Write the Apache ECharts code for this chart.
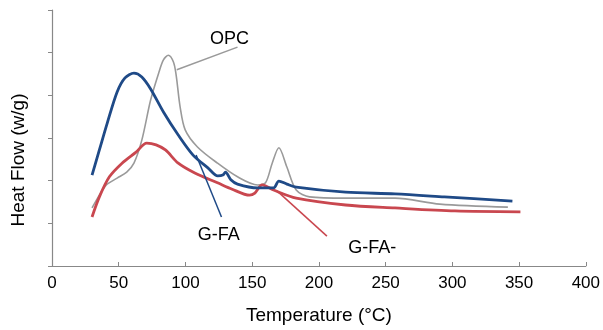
<!DOCTYPE html>
<html>
<head>
<meta charset="utf-8">
<script src="https://cdn.jsdelivr.net/npm/echarts@6/dist/echarts.min.js"></script>
<style>
html,body{margin:0;padding:0;background:#fff;}
#chart{width:603px;height:330px;}
</style>
</head>
<body>
<div id="chart"></div>
<script>
// Temperature (°C) / Heat flow (w/g) pairs
var gfaT = [30, 35.5, 41.4, 48.8, 54.7, 61.4, 67.3, 73.9, 83.5, 94.6, 105.7, 116.8, 124.2, 128, 130, 134, 139, 154, 166, 170, 176, 183, 220, 257, 294, 345];
var gfaH = [2.13, 2.72, 3.35, 4.08, 4.41, 4.52, 4.43, 4.15, 3.61, 3.07, 2.60, 2.30, 2.11, 2.13, 2.20, 2.02, 1.92, 1.83, 1.83, 1.99, 1.92, 1.85, 1.73, 1.69, 1.62, 1.52];

var gfa2T = [30, 35.5, 43, 52.5, 63, 71, 78, 85, 94.6, 107, 124, 135, 148, 152, 157.5, 166, 183, 220, 257, 302, 351];
var gfa2H = [1.15, 1.62, 2.09, 2.41, 2.67, 2.88, 2.84, 2.72, 2.41, 2.18, 1.95, 1.80, 1.66, 1.71, 1.90, 1.78, 1.59, 1.43, 1.36, 1.29, 1.27];

var opcT = [30, 35.5, 40.7, 48.8, 56, 61.4, 67.3, 73.9, 79.9, 83.5, 87.2, 91, 93, 96, 99.8, 109, 124, 139, 154, 160, 165, 170, 176, 183, 193, 220, 257, 290.6, 341.6];
var opcH = [1.36, 1.66, 1.90, 2.06, 2.20, 2.41, 2.95, 3.89, 4.52, 4.83, 4.94, 4.78, 4.48, 3.73, 3.19, 2.79, 2.41, 2.09, 1.90, 1.95, 2.41, 2.77, 2.32, 1.78, 1.62, 1.59, 1.59, 1.45, 1.38];

// leader lines and labels (data units)
var labelNames = ['OPC', 'G-FA', 'G-FA-'];
var labelT = [133, 125, 240];
var labelH = [5.32, 0.73, 0.42];
var leaderOPC = [[93.5, 4.6], [139, 5.13]];
var leaderGFA = [[108, 2.60], [127, 1.15]];
var leaderGFA2 = [[168.6, 1.76], [206, 0.70]];

var xTicks = [0, 400, 50];
var yRange = [0, 6, 1];

function pairs(a, b) { return a.map(function (v, i) { return [v, b[i]]; }); }

var BLUE = '#1f4a87', RED = '#c9474f', GRAY = '#9a9a9a';
var FONT = 'Liberation Sans, Arial, Helvetica, sans-serif';

var chart = echarts.init(document.getElementById('chart'), null, {renderer: 'canvas'});
chart.setOption({
  animation: false,
  backgroundColor: '#fff',
  grid: {left: 52, right: 10, top: 10, bottom: 64},
  xAxis: {
    type: 'value', min: xTicks[0], max: xTicks[1], interval: xTicks[2],
    name: 'Temperature (°C)', nameLocation: 'middle', nameGap: 40,
    nameTextStyle: {fontFamily: FONT, fontSize: 19, color: '#000'},
    axisLine: {lineStyle: {color: '#888', width: 1.2}},
    axisTick: {show: true, inside: true, length: 4, lineStyle: {color: '#888'}},
    axisLabel: {fontFamily: FONT, fontSize: 17, color: '#000', margin: 9},
    splitLine: {show: false}
  },
  yAxis: {
    type: 'value', min: yRange[0], max: yRange[1], interval: yRange[2],
    name: 'Heat Flow (w/g)', nameLocation: 'middle', nameGap: 24,
    nameTextStyle: {fontFamily: FONT, fontSize: 19, color: '#000', padding: [0, 44, 0, 0]},
    axisLine: {show: true, lineStyle: {color: '#888', width: 1.2}},
    axisTick: {show: true, inside: false, length: 4, lineStyle: {color: '#888'}},
    axisLabel: {show: false},
    splitLine: {show: false}
  },
  series: [
    {type: 'line', name: 'OPC', data: pairs(opcT, opcH), smooth: 0.3, showSymbol: false, symbol: 'none',
     lineStyle: {color: GRAY, width: 1.6}, z: 2},
    {type: 'line', name: 'G-FA-', data: pairs(gfa2T, gfa2H), smooth: 0.3, showSymbol: false, symbol: 'none',
     lineStyle: {color: RED, width: 2.8}, z: 3},
    {type: 'line', name: 'G-FA', data: pairs(gfaT, gfaH), smooth: 0.3, showSymbol: false, symbol: 'none',
     lineStyle: {color: BLUE, width: 2.8}, z: 4},
    {type: 'line', data: leaderOPC, symbol: 'none', lineStyle: {color: GRAY, width: 1.5}, z: 2},
    {type: 'line', data: leaderGFA, symbol: 'none', lineStyle: {color: BLUE, width: 1.5}, z: 4},
    {type: 'line', data: leaderGFA2, symbol: 'none', lineStyle: {color: RED, width: 1.5}, z: 3},
    {type: 'scatter', symbolSize: 0, itemStyle: {opacity: 1},
     data: labelNames.map(function (n, i) { return {name: n, value: [labelT[i], labelH[i]]}; }),
     label: {show: true, position: 'inside', formatter: '{b}', fontFamily: FONT, fontSize: 18,
             color: '#000', opacity: 1, textBorderWidth: 0}, z: 5}
  ]
});
</script>
</body>
</html>
